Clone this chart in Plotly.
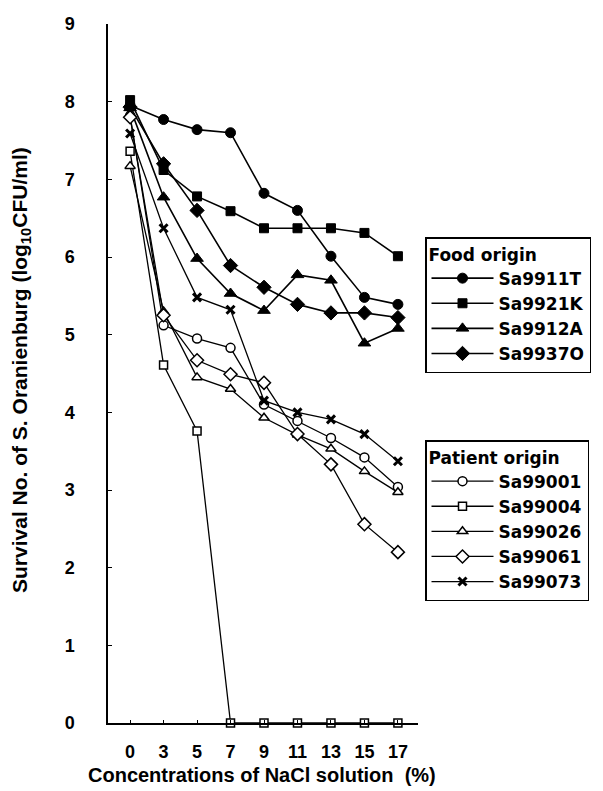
import plotly.graph_objects as go

conc = ["0", "3", "5", "7", "9", "11", "13", "15", "17"]

sa9911T = [7.95, 7.77, 7.64, 7.60, 6.82, 6.60, 6.01, 5.48, 5.39]
sa9921K = [8.02, 7.12, 6.78, 6.59, 6.37, 6.37, 6.37, 6.31, 6.01]
sa9912A = [7.92, 6.77, 5.98, 5.53, 5.31, 5.77, 5.70, 4.89, 5.08]
sa9937O = [7.93, 7.20, 6.60, 5.89, 5.61, 5.39, 5.28, 5.28, 5.22]

sa99001 = [7.82, 5.12, 4.95, 4.83, 4.10, 3.89, 3.67, 3.42, 3.04]
sa99004 = [7.36, 4.61, 3.76, 0, 0, 0, 0, 0, 0]
sa99026 = [7.17, 5.30, 4.45, 4.30, 3.93, 3.71, 3.53, 3.24, 2.97]
sa99061 = [7.80, 5.25, 4.67, 4.49, 4.38, 3.72, 3.33, 2.56, 2.20]
sa99073 = [7.59, 6.37, 5.48, 5.32, 4.15, 4.00, 3.91, 3.72, 3.37]

FONT = "Liberation Sans, Arial, sans-serif"
LFONT = "DejaVu Sans, Liberation Sans, sans-serif"

food = [
    ("Sa9911T", sa9911T, "circle", 10),
    ("Sa9921K", sa9921K, "square", 9),
    ("Sa9912A", sa9912A, "triangle-up", 11),
    ("Sa9937O", sa9937O, "diamond", 11),
]
patient = [
    ("Sa99001", sa99001, "circle", 9),
    ("Sa99004", sa99004, "square", 8),
    ("Sa99026", sa99026, "triangle-up", 9),
    ("Sa99061", sa99061, "diamond", 10),
    ("Sa99073", sa99073, "x-thin", 8),
]

fig = go.Figure()
for name, vals, sym, sz in food:
    fig.add_trace(go.Scatter(
        x=conc, y=vals, name=name, mode="lines+markers", legend="legend",
        line=dict(color="black", width=1.6),
        marker=dict(symbol=sym, size=sz, color="black", line=dict(color="black", width=1)),
        cliponaxis=False,
    ))
for name, vals, sym, sz in patient:
    if sym == "x-thin":
        mk = dict(symbol=sym, size=sz, color="black", line=dict(color="black", width=3))
    else:
        mk = dict(symbol=sym, size=sz, color="white", line=dict(color="black", width=1.5))
    fig.add_trace(go.Scatter(
        x=conc, y=vals, name=name, mode="lines+markers", legend="legend2",
        line=dict(color="black", width=1.3),
        marker=mk,
        cliponaxis=False,
    ))

# page body has an 8px margin; work in page pixels and convert
OFF = 8
W, H = 603 - OFF, 791 - OFF
L, T = 108 - OFF, 24 - OFF
R = W - (418 - OFF)
B = H - (723 - OFF)
pw, ph = W - L - R, H - T - B

def px_x(x):
    return (x - OFF - L) / pw

def px_y(y):
    return (H - B - (y - OFF)) / ph

legend_common = dict(
    xanchor="left", yanchor="top",
    bgcolor="white", bordercolor="black", borderwidth=1.5,
    font=dict(family=LFONT, size=17, color="black", weight="bold"),
    itemwidth=62, tracegroupgap=0,
)

fig.update_layout(
    width=W, height=H,
    margin=dict(l=L, r=R, t=T, b=B, autoexpand=False),
    plot_bgcolor="white", paper_bgcolor="white",
    font=dict(family=FONT, color="black"),
    showlegend=True,
    legend=dict(
        x=px_x(425), y=px_y(237),
        title=dict(text="Food origin", font=dict(family=LFONT, size=17, weight="bold")),
        **legend_common,
    ),
    legend2=dict(
        x=px_x(425), y=px_y(440),
        title=dict(text="Patient origin", font=dict(family=LFONT, size=17, weight="bold")),
        **legend_common,
    ),
    xaxis=dict(
        type="category", range=[-0.66, 8.6],
        showline=True, linecolor="black", linewidth=1.5,
        ticks="inside", ticklen=3, tickcolor="black",
        showgrid=False, zeroline=False,
        tickfont=dict(family=FONT, size=18, weight="bold"),
        ticklabelstandoff=12,
    ),
    yaxis=dict(
        range=[0, 9], dtick=1,
        showline=True, linecolor="black", linewidth=1.5,
        ticks="inside", ticklen=4, tickcolor="black",
        showgrid=False, zeroline=False,
        tickfont=dict(family=FONT, size=18, weight="bold"),
        ticklabelstandoff=28,
    ),
    annotations=[
        dict(
            text="Survival No. of S. Oranienburg (log<sub>10</sub>CFU/ml)",
            xref="paper", yref="paper", x=px_x(21), y=px_y(370),
            xanchor="center", yanchor="middle", textangle=-90, showarrow=False,
            font=dict(family=FONT, size=21, weight="bold"),
        ),
        dict(
            text="Concentrations of NaCl solution  (%)",
            xref="paper", yref="paper", x=px_x(262), y=px_y(775),
            xanchor="center", yanchor="middle", showarrow=False,
            font=dict(family=FONT, size=20, weight="bold"),
        ),
    ],
)

fig.write_html("out.html")
